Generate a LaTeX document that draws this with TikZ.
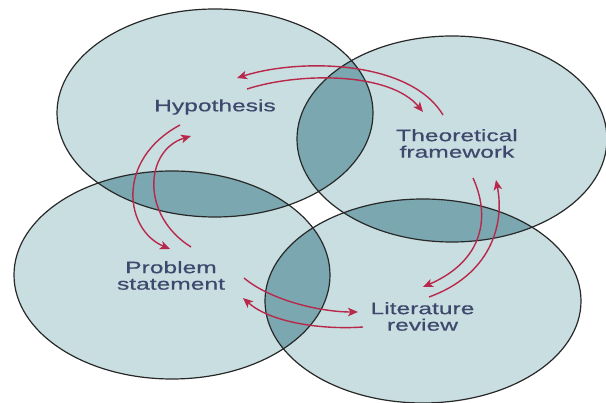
\documentclass[tikz,border=0pt]{standalone}
\usepackage{fontspec}
\newfontfamily\labfont[FakeStretch=1.49,FakeBold=0.6]{Liberation Sans}
\usetikzlibrary{arrows.meta}
\definecolor{lightfill}{RGB}{201,222,225}
\definecolor{darkfill}{RGB}{123,168,176}
\definecolor{edgecol}{RGB}{40,40,40}
\definecolor{arrowred}{RGB}{184,40,74}
\definecolor{labcol}{RGB}{62,72,108}
\begin{document}
\begin{tikzpicture}[x=1pt,y=-1pt,
  lab/.style={font={\labfont\fontsize{16.5pt}{16.5pt}\selectfont}, text=labcol, align=center, inner sep=0pt},
  cyc/.style={draw=arrowred, line width=1.4pt, -{Stealth[length=10pt,width=8.5pt,inset=2.5pt]}},
  rim/.style={draw=edgecol, line width=1.2pt}]
\useasboundingbox (0,0) rectangle (606,403);
\def\ellTL{(215,113) ellipse [x radius=158, y radius=104]}
\def\ellTR{(452,139) ellipse [x radius=155, y radius=103]}
\def\ellBL{(172,275) ellipse [x radius=158, y radius=104]}
\def\ellBR{(423,301) ellipse [x radius=158, y radius=102]}
% light fills
\fill[lightfill] \ellTL;
\fill[lightfill] \ellTR;
\fill[lightfill] \ellBL;
\fill[lightfill] \ellBR;
% overlaps
\begin{scope}
  \clip \ellTL;
  \fill[darkfill] \ellTR;
  \fill[darkfill] \ellBL;
\end{scope}
\begin{scope}
  \clip \ellBR;
  \fill[darkfill] \ellTR;
  \fill[darkfill] \ellBL;
\end{scope}
% outlines
\draw[rim] \ellTL;
\draw[rim] \ellTR;
\draw[rim] \ellBL;
\draw[rim] \ellBR;
% labels
\node[lab] (hyp) at (215,107) {Hypothesis};
\node[lab] (theo) at (457,143.5) {Theoretical\\framework};
\node[lab] (prob) at (171,275.5) {Problem\\statement};
\node[lab] (lit) at (422.5,316.5) {Literature\\review};
% arrow end points
\coordinate (a1s) at (443,115); \coordinate (a1e) at (237,78);
\coordinate (a2s) at (247,89);  \coordinate (a2e) at (423,112);
\coordinate (a3s) at (180,125); \coordinate (a3e) at (170,249);
\coordinate (a4s) at (191,247); \coordinate (a4e) at (191,136);
\coordinate (a5s) at (429,297); \coordinate (a5e) at (496,180);
\coordinate (a6s) at (473,178); \coordinate (a6e) at (423,287);
\coordinate (a7s) at (244,278); \coordinate (a7e) at (358,312);
\coordinate (a8s) at (363,327); \coordinate (a8e) at (243,298);
% arrows
\draw[cyc] (a1s) .. controls (410,60) and (300,58) .. (a1e);
\draw[cyc] (a2s) .. controls (300,72) and (390,72) .. (a2e);
\draw[cyc] (a3s) .. controls (115,160) and (125,230) .. (a3e);
\draw[cyc] (a4s) .. controls (140,215) and (145,150) .. (a4e);
\draw[cyc] (a5s) .. controls (490,275) and (505,225) .. (a5e);
\draw[cyc] (a6s) .. controls (490,215) and (485,260) .. (a6e);
\draw[cyc] (a7s) .. controls (270,300) and (320,312) .. (a7e);
\draw[cyc] (a8s) .. controls (320,330) and (270,322) .. (a8e);
\end{tikzpicture}
\end{document}
